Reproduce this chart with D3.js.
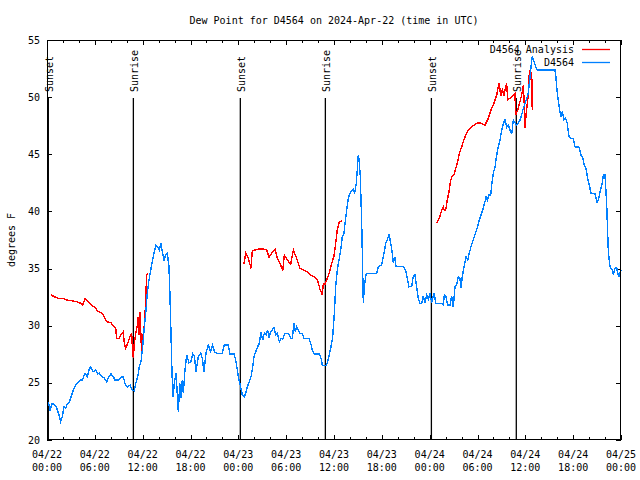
<!DOCTYPE html>
<html><head><meta charset="utf-8">
<script src="https://cdn.jsdelivr.net/npm/d3@7"></script>
<style>
body{margin:0;background:#fff}
text{font-family:"DejaVu Sans Mono",monospace;font-size:10px;fill:#000}
</style>
</head><body>
<svg id="c" width="640" height="480"></svg>
<script>
// ---- DATA ----
const titleText = "Dew Point for D4564 on 2024-Apr-22 (time in UTC)";
const yLabel = "degrees F";
const yTicks = [20, 25, 30, 35, 40, 45, 50, 55];
const seriesNames = ["D4564 Analysis", "D4564"];
// hours since 2024-04-22 00:00 UTC
const obsHours = [0.16,0.38,0.66,1.00,1.22,1.51,1.72,1.92,2.13,2.35,2.55,2.76,2.97,3.30,3.60,3.80,4.14,4.43,4.77,5.06,5.27,5.48,5.81,6.11,6.36,6.56,6.86,7.15,7.49,7.78,8.03,8.32,8.53,8.94,9.28,9.57,9.78,10.07,10.41,10.70,10.95,11.13,11.38,11.58,11.79,12.00,12.17,12.38,12.58,12.79,13.01,13.21,13.42,13.67,13.89,14.09,14.30,14.46,14.68,14.89,15.09,15.30,15.43,15.55,15.68,15.81,15.97,16.18,16.31,16.47,16.65,16.81,16.97,17.10,17.31,17.52,17.81,18.03,18.28,18.48,18.69,18.98,19.28,19.48,19.69,19.94,20.23,20.53,20.78,20.99,21.29,21.99,22.24,22.74,22.95,23.46,23.67,23.87,24.08,24.30,24.50,24.75,24.92,25.12,25.38,25.59,25.75,25.97,26.18,26.43,26.63,26.84,27.06,27.26,27.47,27.68,27.85,28.06,28.26,28.47,28.69,28.89,29.14,29.35,29.57,29.85,30.27,30.57,30.77,30.98,31.15,31.32,31.52,31.74,32.02,32.24,32.86,33.08,33.28,33.53,34.16,34.37,34.53,35.00,35.21,35.41,35.62,35.84,36.04,36.21,36.41,36.63,36.84,37.04,37.25,37.38,37.59,37.79,38.01,38.22,38.42,38.60,38.80,38.92,39.05,39.17,39.30,39.47,39.68,39.80,40.01,40.18,41.36,41.56,41.98,42.27,42.49,42.69,42.90,43.11,43.31,43.44,43.65,43.78,44.69,44.99,45.19,45.41,45.75,45.95,46.16,46.37,46.57,46.79,47.00,47.20,47.41,47.63,47.83,48.04,48.25,48.54,48.79,49.51,49.71,49.84,50.05,50.26,50.55,50.76,50.96,51.18,51.39,51.59,51.80,51.93,52.09,52.31,52.56,52.77,52.97,53.18,53.40,53.60,53.81,54.02,54.23,54.44,54.65,54.94,55.07,55.23,55.44,55.66,55.78,55.98,56.20,56.41,56.61,56.82,57.04,57.24,57.45,57.66,57.86,58.08,58.29,58.49,58.70,58.92,59.12,59.33,59.54,59.75,59.96,60.17,60.37,60.59,60.71,60.87,61.09,61.30,61.50,63.72,63.81,64.01,64.22,64.44,64.64,64.85,65.06,65.26,65.48,65.69,66.02,66.23,66.77,66.98,67.20,67.40,67.61,67.82,68.02,68.24,68.74,69.03,69.24,69.45,69.65,69.78,69.99,70.20,70.41,70.62,70.91,71.04,71.25,71.46,71.59,71.75,72.00];
const obsValues = [23.35,22.63,23.21,23.06,22.80,22.19,21.60,22.04,22.91,22.80,23.15,23.24,23.68,24.38,24.81,24.96,25.25,25.25,25.84,25.54,26.13,26.41,25.98,26.13,25.78,25.84,25.54,25.43,25.10,25.54,25.78,25.54,25.25,25.25,25.49,25.54,24.96,24.61,24.81,24.38,24.31,24.96,25.54,26.41,26.85,28.16,29.63,31.09,32.84,34.00,34.88,35.60,36.34,37.06,36.91,36.63,37.21,36.48,35.75,36.19,36.34,35.16,32.54,29.34,25.84,23.79,24.96,25.84,24.38,22.48,24.96,23.65,25.25,24.09,26.13,27.44,26.76,26.85,27.53,27.35,25.98,27.29,27.59,27.15,25.98,27.59,28.31,27.73,28.31,27.73,27.59,27.59,28.31,28.31,27.53,27.53,27.00,26.13,25.25,24.61,23.94,23.79,24.09,24.66,25.10,25.54,26.13,27.29,27.73,28.16,28.46,29.48,28.75,29.34,29.19,29.63,28.90,29.48,29.63,29.86,29.19,29.34,28.60,28.90,28.81,29.34,29.34,28.90,28.90,30.21,29.48,29.91,29.63,29.34,29.34,28.90,28.90,28.46,27.88,27.53,27.53,27.15,26.56,26.50,26.85,27.44,28.16,29.04,31.09,33.41,34.88,35.75,36.63,37.79,38.09,38.96,40.13,41.15,41.59,41.81,41.94,41.64,42.46,43.63,44.94,44.35,43.04,39.10,31.96,33.41,34.44,34.59,34.59,35.16,35.31,36.34,37.21,37.50,38.00,37.26,36.34,35.46,36.04,35.16,35.16,34.88,34.15,33.41,33.48,34.35,34.44,33.41,32.40,31.96,31.96,32.60,31.96,32.69,32.31,32.84,32.01,32.84,31.96,31.96,31.81,32.69,32.54,31.81,31.81,32.60,31.66,33.41,33.56,34.29,34.15,33.27,34.29,35.16,36.04,35.75,36.34,36.91,37.35,37.79,38.23,38.66,39.25,39.69,40.13,40.85,41.29,41.00,41.44,41.44,42.31,43.34,43.91,44.94,45.66,46.25,47.13,47.71,48.00,47.36,47.56,47.13,46.75,48.00,47.76,47.56,47.71,48.00,48.44,49.02,49.46,49.90,50.34,51.79,52.66,53.54,53.10,52.66,52.38,52.38,51.94,50.34,49.31,48.29,48.73,48.00,48.15,47.71,46.54,46.40,46.40,45.66,45.61,44.94,44.65,44.06,43.77,42.90,42.31,41.59,41.53,40.71,41.29,41.94,42.46,43.19,43.19,40.71,36.48,35.16,34.88,34.44,35.02,35.08,34.59,34.29,34.90];
// analysis series (null = gap)
const anaHours = [0.50,0.92,1.42,2.04,2.47,3.10,3.73,4.23,4.48,4.77,5.18,5.61,6.02,6.43,6.86,7.15,7.49,8.03,8.32,8.62,8.74,9.03,9.28,9.57,9.70,9.87,10.12,10.41,10.62,10.70,10.83,10.95,11.13,11.33,11.45,11.54,11.67,11.79,11.88,11.95,12.17,12.29,12.38,12.51,12.63,
  18.00,
  24.62,24.75,24.92,25.25,25.59,25.75,26.09,26.50,27.13,27.56,27.85,28.19,28.60,28.89,29.23,29.57,29.77,30.14,30.57,30.90,31.23,31.52,31.74,32.36,32.78,33.08,33.62,33.96,34.24,34.53,34.66,34.87,35.16,35.41,35.71,36.00,36.21,36.41,36.66,36.97,
  42.00,
  48.88,49.08,49.30,49.51,49.71,49.84,50.01,50.21,50.43,50.64,50.84,51.05,51.27,51.52,51.72,52.02,52.22,52.52,52.85,53.27,53.90,54.31,54.94,55.36,55.69,55.90,56.20,56.41,56.61,56.73,56.91,57.11,57.32,57.54,57.66,57.79,58.29,58.70,58.79,59.04,59.33,59.54,59.75,59.88,59.96,60.09,60.25,60.37,60.50,60.59,60.67,60.71,60.80,60.87];
const anaValues = [32.69,32.54,32.40,32.40,32.25,32.19,32.10,31.96,31.81,32.40,32.10,31.81,31.58,31.23,31.14,30.79,30.35,30.26,29.98,29.77,28.90,28.90,29.19,29.48,28.46,28.02,28.46,29.04,29.28,28.31,27.15,28.46,29.34,30.06,30.79,29.19,31.23,28.90,27.59,28.75,29.77,30.79,32.54,34.44,34.61,
  null,
  35.51,35.46,36.39,35.90,35.02,36.56,36.63,36.71,36.71,36.63,35.99,36.34,36.69,35.90,35.46,34.81,36.19,35.75,35.40,36.63,36.04,35.46,35.02,34.81,34.64,34.44,34.24,33.94,33.19,32.69,33.65,33.65,34.15,34.64,35.46,36.10,37.21,38.38,39.10,39.16,
  null,
  39.01,39.25,39.60,40.13,40.41,40.06,40.13,41.00,41.73,42.75,43.10,43.19,43.77,44.35,45.09,45.66,46.10,46.69,47.13,47.41,47.71,47.76,47.56,48.15,48.88,49.16,49.75,50.19,50.91,51.26,50.10,50.63,50.19,50.91,51.21,49.75,50.04,50.34,48.44,48.88,49.60,50.19,51.06,49.16,47.27,48.44,49.46,50.19,52.09,52.23,52.81,51.50,52.23,48.88];
const sunTimes = ["2024-04-22T00:10Z","2024-04-22T10:50Z","2024-04-23T00:15Z","2024-04-23T10:55Z","2024-04-24T00:13Z","2024-04-24T10:52Z"];
const sunLabels = ["Sunset","Sunrise","Sunset","Sunrise","Sunset","Sunrise"];

// ---- CHART ----
const svg = d3.select("#c");
const L = 47, R = 621, T = 40, B = 440;
const t0 = Date.UTC(2024, 3, 22, 0, 0);
const hr = h => new Date(t0 + h * 3600e3);
const x = d3.scaleUtc().domain([hr(0), hr(72)]).range([L, R]);
const y = d3.scaleLinear().domain([20, 55]).range([B, T]);

function clean(g){ g.select(".domain").remove(); g.selectAll("text").remove(); g.selectAll("line").attr("stroke","#000"); }

// ticks
svg.append("g").attr("transform",`translate(0,${B})`).attr("shape-rendering","crispEdges")
  .call(d3.axisBottom(x).ticks(d3.utcHour.every(2)).tickSize(-3)).call(clean);
svg.append("g").attr("transform",`translate(0,${B})`).attr("shape-rendering","crispEdges")
  .call(d3.axisBottom(x).ticks(d3.utcHour.every(6)).tickSize(-5)).call(clean);
svg.append("g").attr("transform",`translate(0,${T})`).attr("shape-rendering","crispEdges")
  .call(d3.axisTop(x).ticks(d3.utcHour.every(2)).tickSize(-3)).call(clean);
svg.append("g").attr("transform",`translate(0,${T})`).attr("shape-rendering","crispEdges")
  .call(d3.axisTop(x).ticks(d3.utcHour.every(6)).tickSize(-5)).call(clean);
svg.append("g").attr("transform",`translate(${L},0)`).attr("shape-rendering","crispEdges")
  .call(d3.axisLeft(y).tickValues(yTicks).tickSize(-5)).call(clean);
svg.append("g").attr("transform",`translate(${R},0)`).attr("shape-rendering","crispEdges")
  .call(d3.axisRight(y).tickValues(yTicks).tickSize(-5)).call(clean);

// y tick labels
svg.append("g").selectAll("text").data(yTicks).join("text")
  .attr("x", L - 7).attr("y", d => y(d)).attr("dy","0.35em")
  .attr("text-anchor","end").text(d => d);

// x tick labels
const xt = x.ticks(d3.utcHour.every(6));
const xl = svg.append("g").selectAll("text").data(xt).join("text")
  .attr("text-anchor","middle");
xl.append("tspan").attr("x", d => x(d)).attr("y", 458).text(d3.utcFormat("%m/%d"));
xl.append("tspan").attr("x", d => x(d)).attr("y", 471).text(d3.utcFormat("%H:%M"));

// sunrise / sunset
const sun = sunTimes.map((s,i) => ({t: new Date(s), label: sunLabels[i]}));
svg.append("g").selectAll("line").data(sun).join("line")
  .attr("x1", d => x(d.t)).attr("x2", d => x(d.t))
  .attr("y1", 98).attr("y2", B).attr("stroke","#000").attr("stroke-width",1.3);
svg.append("g").selectAll("text").data(sun).join("text")
  .attr("transform", d => `translate(${x(d.t)+1},92) rotate(-90)`)
  .attr("dy","0.35em").attr("text-anchor","start").text(d => d.label);

// data lines
const line = d3.line().defined(d => d.v != null).x(d => x(d.t)).y(d => y(d.v));
const ana = anaHours.map((h,i) => ({t: hr(h), v: anaValues[i]}));
const obs = obsHours.map((h,i) => ({t: hr(h), v: obsValues[i]}));
const colors = ["#ff0000", "#0080ff"];
svg.append("path").datum(ana).attr("d", line).attr("fill","none")
  .attr("stroke", colors[0]).attr("stroke-width",1.4).attr("shape-rendering","crispEdges");
svg.append("path").datum(obs).attr("d", line).attr("fill","none")
  .attr("stroke", colors[1]).attr("stroke-width",1.4).attr("shape-rendering","crispEdges");

// border
svg.append("rect").attr("x",L+0.5).attr("y",T+0.5).attr("width",R-L-1).attr("height",B-T-1)
  .attr("fill","none").attr("stroke","#000").attr("shape-rendering","crispEdges");

// title & y label
svg.append("text").attr("x",(L+R)/2).attr("y",24).attr("text-anchor","middle").text(titleText);
svg.append("text").attr("transform","translate(11,240) rotate(-90)").attr("dy","0.35em")
  .attr("text-anchor","middle").text(yLabel);

// legend
const lg = svg.append("g");
seriesNames.forEach((n,i) => {
  const ly = 49.5 + i*13;
  lg.append("text").attr("x",574).attr("y",ly).attr("dy","0.35em").attr("text-anchor","end").text(n);
  lg.append("line").attr("x1",582).attr("x2",610).attr("y1",ly).attr("y2",ly)
    .attr("stroke",colors[i]).attr("stroke-width",1.3);
});
</script>
</body></html>
